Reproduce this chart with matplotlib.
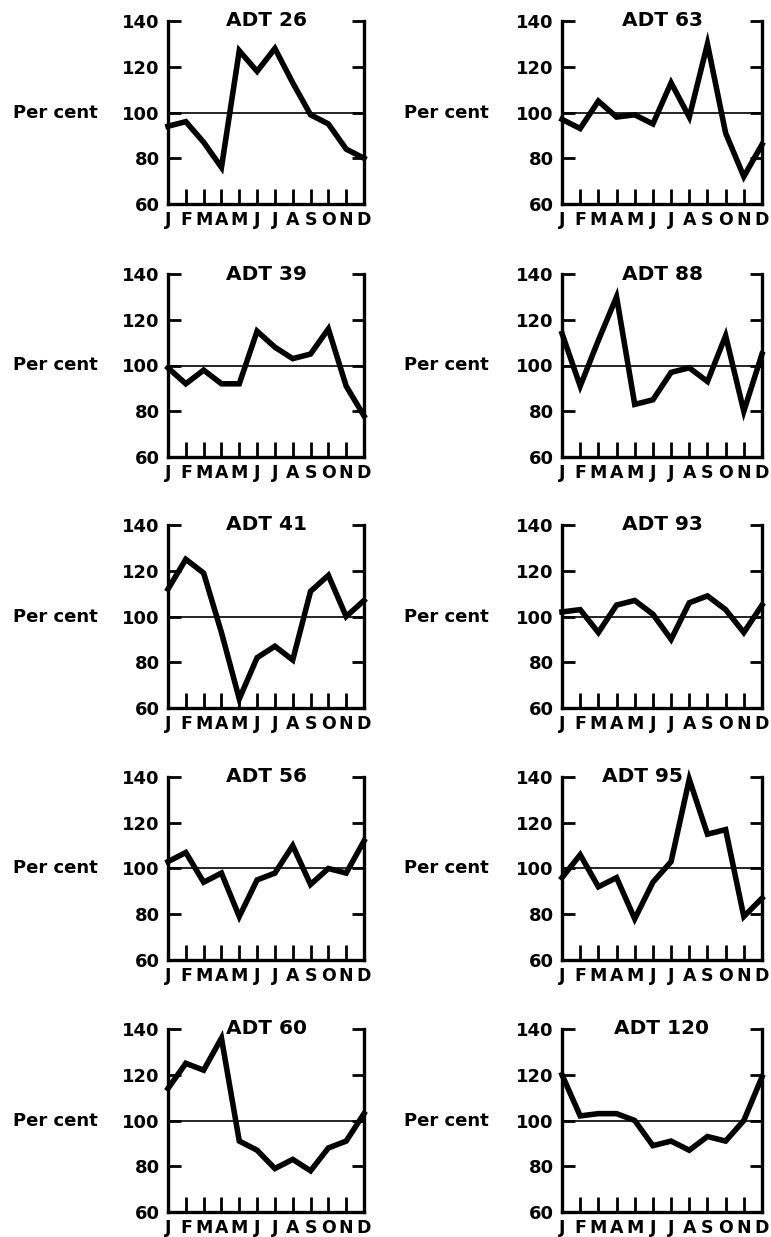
import matplotlib
matplotlib.use("Agg")
import matplotlib.pyplot as plt

plt.rcParams['font.family'] = ['Liberation Sans Narrow', 'DejaVu Sans']

# Aylar ve seriler (yüzde)
months = ["J", "F", "M", "A", "M", "J", "J", "A", "S", "O", "N", "D"]
y_ticks = [60, 80, 100, 120, 140]

adt_26 = [94, 96, 87, 76, 127, 118, 128, 113, 99, 95, 84, 80]
adt_39 = [99, 92, 98, 92, 92, 115, 108, 103, 105, 116, 91, 78]
adt_41 = [112, 125, 119, 93, 64, 82, 87, 81, 111, 118, 100, 107]
adt_56 = [103, 107, 94, 98, 79, 95, 98, 110, 93, 100, 98, 112]
adt_60 = [114, 125, 122, 136, 91, 87, 79, 83, 78, 88, 91, 103]

adt_63 = [97, 93, 105, 98, 99, 95, 113, 98, 130, 91, 72, 86]
adt_88 = [114, 91, 111, 130, 83, 85, 97, 99, 93, 113, 80, 105]
adt_93 = [102, 103, 93, 105, 107, 101, 90, 106, 109, 103, 93, 105]
adt_95 = [96, 106, 92, 96, 78, 94, 103, 139, 115, 117, 79, 87]
adt_120 = [120, 102, 103, 103, 100, 89, 91, 87, 93, 91, 100, 119]

left_col = [("ADT 26", adt_26), ("ADT 39", adt_39), ("ADT 41", adt_41),
            ("ADT 56", adt_56), ("ADT 60", adt_60)]
right_col = [("ADT 63", adt_63), ("ADT 88", adt_88), ("ADT 93", adt_93),
             ("ADT 95", adt_95), ("ADT 120", adt_120)]

W, H = 771, 1237
fig = plt.figure(figsize=(W / 100, H / 100), dpi=100)

row_tops = [21, 274, 525, 777, 1029]
panel_h = 183
cols = [(168, 196, left_col), (562, 200, right_col)]


def panel(ax, title, vals):
    x = range(len(months))
    ax.plot(x, vals, color="black", lw=4, solid_joinstyle="miter", clip_on=False, zorder=3)
    ax.axhline(100, color="black", lw=1.2, zorder=2)
    ax.set_xlim(0, 11)
    ax.set_ylim(60, 140)

    ax.spines["top"].set_visible(False)
    for s in ("left", "right", "bottom"):
        ax.spines[s].set_linewidth(2.4)

    ax.set_yticks(y_ticks)
    ax.set_yticklabels([str(v) for v in y_ticks], fontsize=13, fontweight="bold")
    ax.tick_params(axis="y", direction="in", length=9, width=2, left=True, right=True,
                   labelright=False, pad=6)
    ax.set_xticks(list(x))
    ax.set_xticklabels(months, fontsize=12.5, fontweight="bold")
    ax.tick_params(axis="x", direction="in", length=11, width=2, pad=5)

    dx = -1.1 if title == "ADT 95" else 0
    ax.text(5.5 + dx, 140, title, ha="center", va="center", fontsize=14.5,
            fontweight="bold", family=["DejaVu Sans"], clip_on=False)
    ax.text(-0.79, 100, "Per cent", transform=ax.get_yaxis_transform(),
            ha="left", va="center", fontsize=13, fontweight="bold",
            family=["DejaVu Sans"])


for x0, w, col in cols:
    for top, (title, vals) in zip(row_tops, col):
        ax = fig.add_axes([x0 / W, 1 - (top + panel_h) / H, w / W, panel_h / H])
        panel(ax, title, vals)

fig.savefig("out.png", dpi=100)
